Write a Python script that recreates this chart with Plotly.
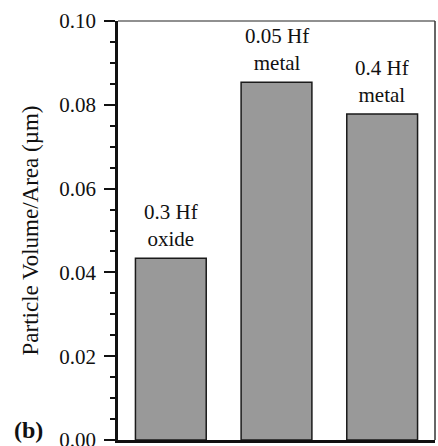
import plotly.graph_objects as go

categories = ["0.3 Hf oxide", "0.05 Hf metal", "0.4 Hf metal"]
labels = ["0.3 Hf<br>oxide", "0.05 Hf<br>metal", "0.4 Hf<br>metal"]
values = [0.0434, 0.0854, 0.0778]
ytick_vals = [0.0, 0.02, 0.04, 0.06, 0.08, 0.10]
ytick_text = ["0.00", "0.02", "0.04", "0.06", "0.08", "0.10"]

FONT = "Liberation Serif, Times New Roman, serif"

fig = go.Figure()
fig.add_trace(go.Bar(
    x=categories, y=values, width=0.67,
    marker=dict(color="#999999", line=dict(color="#1a1a1a", width=1.5)),
))

for c, t, v in zip(categories, labels, values):
    fig.add_annotation(x=c, y=v, text=t, showarrow=False, yanchor="bottom",
                       yshift=5, font=dict(family=FONT, size=21, color="#111"))

fig.add_annotation(xref="paper", yref="paper", x=-0.335, y=-0.012, xanchor="left",
                   yanchor="bottom", text="<b>(b)</b>", showarrow=False,
                   font=dict(family=FONT, size=24, color="#111"))

fig.add_shape(type="line", xref="paper", yref="paper", x0=0, x1=1, y0=1, y1=1,
              line=dict(color="#222", width=1.2))
fig.add_shape(type="line", xref="paper", yref="paper", x0=1, x1=1, y0=0, y1=1,
              line=dict(color="#333", width=1.5))

fig.update_layout(
    width=438, height=446,
    margin=dict(l=118, r=3, t=21, b=6, autoexpand=False),
    paper_bgcolor="white", plot_bgcolor="white",
    showlegend=False,
    font=dict(family=FONT, size=20, color="#111"),
    xaxis=dict(showticklabels=False, ticks="", showline=True, linecolor="#111",
               linewidth=2.5, showgrid=False, zeroline=False,
               range=[-0.5, 2.5]),
    yaxis=dict(range=[0, 0.1], tickvals=ytick_vals, ticktext=ytick_text,
               ticks="outside", ticklen=11, tickwidth=1.5, tickcolor="#111",
               showline=True, linecolor="#111", linewidth=2.5,
               showgrid=False, zeroline=False, automargin=False,
               ticklabelstandoff=4, ticklabeloverflow="allow",
               minor=dict(dtick=0.005, ticks="outside", ticklen=5, tickwidth=1.5,
                          tickcolor="#111", showgrid=False),
               tickfont=dict(family=FONT, size=21, color="#111"),
               title=dict(text="Particle Volume/Area (µm)", standoff=15,
                          font=dict(family=FONT, size=23, color="#111"))),
)

fig.write_html("out.html", config={"displayModeBar": False},
               post_script="document.body.style.margin='0';document.documentElement.style.overflow='hidden';document.body.style.overflow='hidden';")
